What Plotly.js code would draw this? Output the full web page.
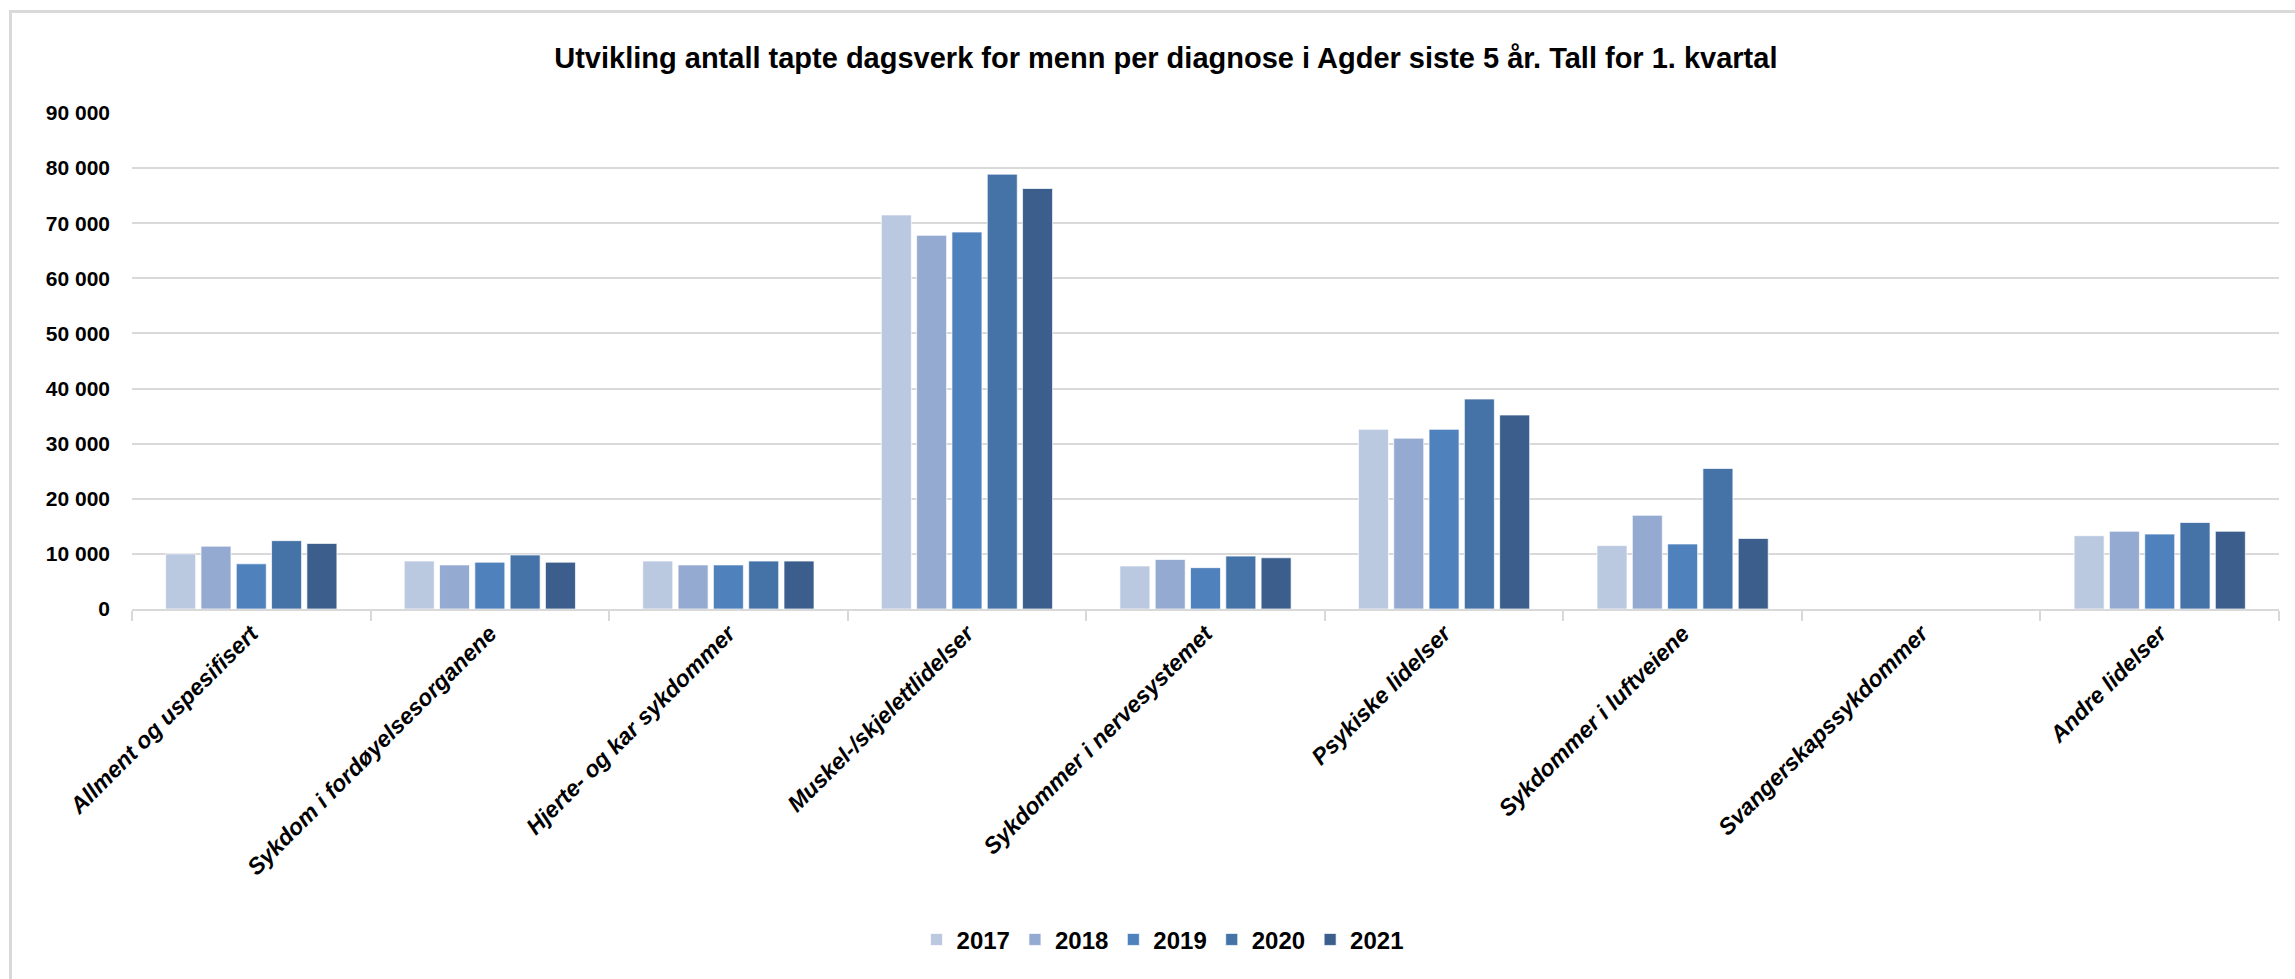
<!DOCTYPE html>
<html>
<head>
<meta charset="utf-8">
<script src="https://cdn.plot.ly/plotly-3.0.1.min.js"></script>
<style>
  html, body { margin: 0; padding: 0; background: #fff; overflow: hidden; }
  #chart { width: 2295px; height: 979px; position: absolute; left: 0; top: 0; }
  #frame { position: absolute; left: 9px; top: 10px; width: 2400px; height: 1100px;
           border: 3px solid #d9d9d9; pointer-events: none; box-sizing: border-box; }
</style>
</head>
<body>
<div id="chart"></div>
<div id="frame"></div>
<script>
const categories = [
  "Allment og uspesifisert",
  "Sykdom i fordøyelsesorganene",
  "Hjerte- og kar sykdommer",
  "Muskel-/skjelettlidelser",
  "Sykdommer i nervesystemet",
  "Psykiske lidelser",
  "Sykdommer i luftveiene",
  "Svangerskapssykdommer",
  "Andre lidelser"
];
const years = ["2017", "2018", "2019", "2020", "2021"];
const v2017 = [10000, 8700, 8700, 71500, 7800, 32600, 11500, 0, 13300];
const v2018 = [11400, 8000, 8000, 67800, 9000, 31000, 17000, 0, 14100];
const v2019 = [8200, 8500, 8000, 68400, 7500, 32600, 11800, 0, 13600];
const v2020 = [12400, 9800, 8700, 78900, 9600, 38100, 25500, 0, 15700];
const v2021 = [11900, 8500, 8700, 76300, 9300, 35200, 12800, 0, 14100];
const seriesValues = [v2017, v2018, v2019, v2020, v2021];
const colors = ["#BAC8E0", "#95AAD1", "#4F81BD", "#4572A7", "#3B5E8C"];

const traces = years.map((y, i) => ({
  type: "bar",
  name: y,
  x: categories,
  y: seriesValues[i],
  marker: { color: colors[i], line: { color: "rgba(255,255,255,0.7)", width: 1 } },
  hoverinfo: "x+y+name"
}));

const layout = {
  width: 2295,
  height: 979,
  paper_bgcolor: "#ffffff",
  plot_bgcolor: "#ffffff",
  font: { family: "Liberation Sans, Arial, sans-serif", color: "#000000" },
  margin: { l: 132, r: 16, t: 113, b: 370 },
  title: {
    text: "<b>Utvikling antall tapte dagsverk for menn per diagnose i Agder siste 5 år. Tall for 1. kvartal</b>",
    font: { family: "Liberation Sans, Arial, sans-serif", size: 29, color: "#000" },
    x: 0.508, xanchor: "center", xref: "container",
    y: 0.941, yanchor: "middle", yref: "container"
  },
  barmode: "group",
  bargap: 0.26,
  bargroupgap: 0.15,
  separators: ", ",
  xaxis: {
    type: "category",
    tickangle: -45,
    tickfont: { size: 23, weight: "bold", style: "italic", color: "#000" },
    showline: true, linecolor: "#d9d9d9", linewidth: 2,
    ticks: "outside", tickson: "boundaries", ticklen: 10, tickcolor: "#d9d9d9", tickwidth: 2,
    showgrid: false, zeroline: false
  },
  yaxis: {
    range: [0, 90000],
    dtick: 10000,
    tickformat: ",d",
    tickfont: { size: 21, weight: "bold", color: "#000" },
    ticklabelstandoff: 21,
    showgrid: true, gridcolor: "#d9d9d9", gridwidth: 2,
    zeroline: false, showline: false, ticks: ""
  },
  showlegend: true,
  legend: {
    orientation: "h",
    x: 0.48, xanchor: "center",
    y: -0.667, yanchor: "middle",
    font: { size: 24, weight: "bold", color: "#000" },
    itemclick: false, itemdoubleclick: false
  }
};

Plotly.newPlot("chart", traces, layout, { displayModeBar: false, staticPlot: false });
</script>
</body>
</html>
